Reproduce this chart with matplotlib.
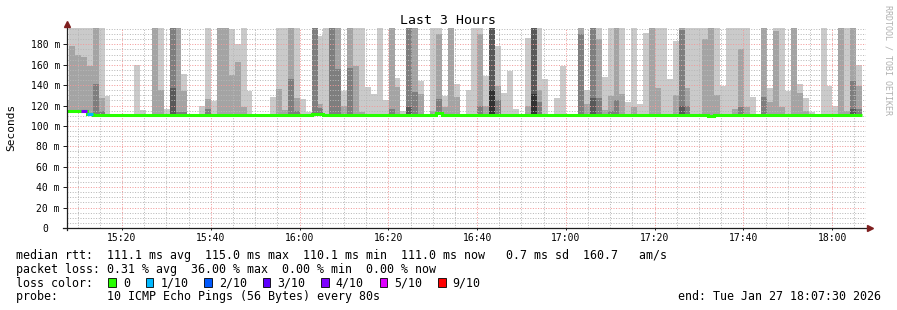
import matplotlib
matplotlib.use("Agg")
import matplotlib.pyplot as plt
import numpy as np
from matplotlib.patches import Rectangle
from matplotlib.transforms import ScaledTranslation

plt.rcParams['font.family'] = ['DejaVu Sans Mono']

# ---- dados: 135 passos de 80 s, valores em ms ----
# pings ordenados acima da mediana (0 = camada vazia, 250 = corta no topo)
ping10 = [125, 250, 250, 250, 250, 250, 250, 129, 0, 0, 0, 0, 160, 116, 0,
          250, 250, 117, 250, 250, 151, 0, 0, 120, 250, 124, 250, 250, 195, 180,
          250, 134, 0, 0, 0, 128, 250, 250, 250, 250, 126, 114, 250, 188, 250,
          250, 250, 134, 250, 250, 250, 138, 131, 250, 125, 250, 147, 115, 250, 250,
          144, 0, 250, 250, 129, 250, 141, 0, 135, 250, 250, 149, 250, 178, 132,
          154, 117, 0, 186, 250, 250, 146, 0, 127, 159, 0, 0, 250, 135, 250,
          250, 148, 250, 250, 250, 123, 250, 122, 191, 250, 250, 250, 146, 183, 250,
          250, 250, 250, 250, 250, 250, 139, 250, 250, 250, 250, 128, 0, 250, 137,
          250, 250, 134, 250, 141, 127, 114, 0, 250, 139, 120, 250, 250, 250, 160]
ping9 = [0, 178, 170, 168, 159, 250, 127, 0, 0, 0, 0, 0, 0, 0, 0,
         250, 135, 0, 250, 250, 134, 0, 0, 0, 126, 0, 250, 250, 150, 163,
         119, 0, 0, 0, 0, 0, 136, 116, 250, 127, 0, 0, 250, 122, 0,
         250, 250, 120, 250, 159, 114, 0, 0, 0, 0, 250, 138, 0, 250, 250,
         131, 0, 115, 190, 119, 250, 128, 0, 0, 0, 190, 120, 250, 139, 0,
         0, 0, 0, 120, 250, 135, 0, 0, 0, 0, 0, 0, 250, 122, 250,
         185, 116, 129, 250, 131, 0, 119, 0, 0, 250, 137, 0, 0, 130, 250,
         137, 0, 0, 185, 250, 130, 0, 0, 117, 175, 119, 0, 0, 250, 123,
         193, 119, 0, 250, 132, 115, 0, 0, 0, 0, 0, 250, 115, 250, 139]
ping8 = [0, 0, 0, 0, 0, 141, 115, 0, 0, 0, 0, 0, 0, 0, 0,
         0, 0, 0, 250, 114, 114, 0, 0, 0, 117, 0, 0, 0, 0, 0,
         0, 0, 0, 0, 0, 0, 0, 0, 146, 115, 0, 0, 250, 118, 0,
         250, 156, 0, 157, 0, 0, 0, 0, 0, 0, 117, 0, 0, 250, 133,
         0, 0, 0, 126, 0, 0, 0, 0, 0, 0, 120, 0, 250, 125, 0,
         0, 0, 0, 0, 250, 123, 0, 0, 0, 0, 0, 0, 190, 0, 250,
         127, 0, 115, 125, 0, 0, 0, 0, 0, 0, 0, 0, 0, 0, 194,
         120, 0, 0, 0, 0, 0, 0, 0, 0, 119, 0, 0, 0, 128, 0,
         0, 0, 0, 0, 0, 0, 0, 0, 0, 0, 0, 0, 0, 144, 117]
ping7 = [0, 0, 0, 0, 0, 0, 0, 0, 0, 0, 0, 0, 0, 0, 0,
         0, 0, 0, 137, 0, 0, 0, 0, 0, 0, 0, 0, 0, 0, 0,
         0, 0, 0, 0, 0, 0, 0, 0, 0, 0, 0, 0, 0, 0, 0,
         0, 0, 0, 0, 0, 0, 0, 0, 0, 0, 0, 0, 0, 119, 0,
         0, 0, 0, 0, 0, 0, 0, 0, 0, 0, 0, 0, 250, 0, 0,
         0, 0, 0, 0, 250, 0, 0, 0, 0, 0, 0, 0, 0, 0, 127,
         0, 0, 0, 0, 0, 0, 0, 0, 0, 0, 0, 0, 0, 0, 120,
         0, 0, 0, 0, 0, 0, 0, 0, 0, 0, 0, 0, 0, 0, 0,
         0, 0, 0, 0, 0, 0, 0, 0, 0, 0, 0, 0, 0, 117, 0]
ping6 = [0, 0, 0, 0, 0, 0, 0, 0, 0, 0, 0, 0, 0, 0, 0,
         0, 0, 0, 0, 0, 0, 0, 0, 0, 0, 0, 0, 0, 0, 0,
         0, 0, 0, 0, 0, 0, 0, 0, 0, 0, 0, 0, 0, 0, 0,
         0, 0, 0, 0, 0, 0, 0, 0, 0, 0, 0, 0, 0, 0, 0,
         0, 0, 0, 0, 0, 0, 0, 0, 0, 0, 0, 0, 135, 0, 0,
         0, 0, 0, 0, 131, 0, 0, 0, 0, 0, 0, 0, 0, 0, 0,
         0, 0, 0, 0, 0, 0, 0, 0, 0, 0, 0, 0, 0, 0, 0,
         0, 0, 0, 0, 0, 0, 0, 0, 0, 0, 0, 0, 0, 0, 0,
         0, 0, 0, 0, 0, 0, 0, 0, 0, 0, 0, 0, 0, 0, 0]
mediana = [115, 115, 115, 115, 112, 111, 111, 111, 111, 111, 111, 111, 111, 111, 111,
           111, 111, 111, 111, 111, 111, 111, 111, 111, 111, 111, 111, 111, 111, 111,
           111, 111, 111, 111, 111, 111, 111, 111, 111, 111, 111, 111, 112, 112, 111,
           111, 111, 111, 111, 111, 111, 111, 111, 111, 111, 111, 111, 111, 111, 111,
           111, 111, 111, 112.5, 111, 111, 111, 111, 111, 111, 111, 111, 111, 111, 111,
           111, 111, 111, 111, 111, 111, 111, 111, 111, 111, 111, 111, 111, 111, 111,
           111, 111, 111, 111, 111, 111, 111, 111, 111, 111, 111, 111, 111, 111, 111,
           111, 111, 111, 111, 110.2, 111, 111, 111, 111, 111, 111, 111, 111, 111, 111,
           111, 111, 111, 111, 111, 111, 111, 111, 111, 111, 111, 111, 111, 111, 111]
perda = [0, 0, 0, 4, 1] + [0] * 130   # pings perdidos de 10

loss_buckets = [0, 1, 2, 3, 4, 5, 9]
loss_labels = ['0', '1/10', '2/10', '3/10', '4/10', '5/10', '9/10']
loss_colors = ['#26ff00', '#00b8ff', '#0059ff', '#5e00ff', '#7e00ff', '#dd00ff', '#ff0000']
smoke_colors = ['#cacaca', '#a4a4a4', '#7e7e7e', '#585858', '#323232']

hora_ticks = ['15:20', '15:40', '16:00', '16:20', '16:40', '17:00', '17:20', '17:40', '18:00']

linha_rtt = 'median rtt:  111.1 ms avg  115.0 ms max  110.1 ms min  111.0 ms now   0.7 ms sd  160.7   am/s'
linha_loss = 'packet loss: 0.31 % avg  36.00 % max  0.00 % min  0.00 % now'
linha_probe = 'probe:       10 ICMP Echo Pings (56 Bytes) every 80s'
linha_end = 'end: Tue Jan 27 18:07:30 2026'

# tempo em minutos depois das 15:00
passo = 80 / 60.0
inicio = 6.73
n = len(mediana)
bordas = inicio + np.arange(n + 1) * passo

W, H = 897, 310
fig = plt.figure(figsize=(W / 100, H / 100), dpi=100)
fig.patch.set_facecolor('white')
ax = fig.add_axes([66.5 / W, 1 - 228 / H, 799 / W, 200 / H])

med = np.array(mediana, dtype=float)
med_ext = np.append(med, med[-1])
for camada, cor in zip([ping10, ping9, ping8, ping7, ping6], smoke_colors):
    topo = np.maximum(np.array(camada, dtype=float), med)
    ax.fill_between(bordas, med_ext, np.append(topo, topo[-1]), step='post',
                    color=cor, lw=0, zorder=1)

# mediana colorida pela perda
ax.plot(bordas, med_ext, drawstyle='steps-post', color=loss_colors[0], lw=2.2,
        solid_capstyle='butt', solid_joinstyle='miter', zorder=4)
for i in range(n):
    if perda[i] > 0:
        ax.hlines(med[i], bordas[i], bordas[i + 1], color=loss_colors[loss_buckets.index(perda[i])],
                  lw=2.2, zorder=5)

ax.set_xlim(7.5, 187.5)
ax.set_ylim(0, 196)
ax.set_xticks(np.arange(20, 181, 20))
ax.set_xticks(np.arange(10, 188, 5), minor=True)
ax.set_xticklabels(hora_ticks)
ax.set_yticks(np.arange(0, 181, 20))
ax.set_yticks(np.arange(5, 196, 5), minor=True)
ax.set_yticklabels(['0'] + ['%d m' % v for v in range(20, 181, 20)])

ax.grid(which='minor', color='#b8b8b8', ls=(0, (1, 1.6)), lw=0.72, zorder=2)
ax.grid(which='major', color='#f29a9a', ls=(0, (1, 1.6)), lw=0.72, zorder=3)
ax.set_axisbelow(False)

for s in ax.spines.values():
    s.set_visible(False)
ax.tick_params(axis='y', which='major', length=2.9, width=0.72, color='#1f1f1f', pad=1.8, labelsize=7)
ax.tick_params(axis='y', which='minor', length=0)
ax.tick_params(axis='x', which='major', length=1.4, width=0.72, color='#1f1f1f', pad=2.2, labelsize=7)
ax.tick_params(axis='x', which='minor', length=0)
# o "0" fica alinhado com os digitos dos outros rotulos
zero = ax.get_yticklabels()[0]
zero.set_transform(zero.get_transform() + ScaledTranslation(-11.8 / 100, 0, fig.dpi_scale_trans))

# eixos com setas
ax.plot([0, 0], [-0.012, 1.02], transform=ax.transAxes, color='#1f1f1f', lw=0.9, clip_on=False, zorder=6)
ax.plot([-0.004, 1.004], [0, 0], transform=ax.transAxes, color='#1f1f1f', lw=0.9, clip_on=False, zorder=6)
ax.plot(0, 1.022, marker='^', ms=4, color='#7f1f1f', transform=ax.transAxes, clip_on=False, zorder=7)
ax.plot(1.006, 0, marker='>', ms=4, color='#7f1f1f', transform=ax.transAxes, clip_on=False, zorder=7)

def fy(py):
    return 1 - py / H

fig.text(447.5 / W, fy(24.3), 'Last 3 Hours', ha='center', va='baseline', fontsize=9.5)
fig.text(10.8 / W, fy(127), 'Seconds', ha='center', va='center', rotation=90, fontsize=8)
fig.text(887.5 / W, fy(5), 'RRDTOOL / TOBI OETIKER', ha='center', va='top', rotation=270,
         fontsize=6, color='#b0b0b0')

fig.text(16 / W, fy(258.7), linha_rtt, ha='left', va='baseline', fontsize=8.4)
fig.text(16 / W, fy(272.5), linha_loss, ha='left', va='baseline', fontsize=8.4)
fig.text(16 / W, fy(286.6), 'loss color:', ha='left', va='baseline', fontsize=8.4)
fig.text(16 / W, fy(300.2), linha_probe, ha='left', va='baseline', fontsize=8.4)
fig.text(881 / W, fy(300.2), linha_end, ha='right', va='baseline', fontsize=8.4)

# legenda das cores de perda
cx = 108.3
for rot, cor in zip(loss_labels, loss_colors):
    fig.patches.append(Rectangle((cx / W, fy(286.6)), 7.6 / W, 8.2 / H, transform=fig.transFigure,
                                 facecolor=cor, edgecolor='black', lw=0.6))
    fig.text((cx + 14.5) / W, fy(286.6), rot, ha='left', va='baseline', fontsize=8.4)
    cx += 30.4 + 7.02 * len(rot)

fig.savefig('out.png', dpi=100, facecolor='white')
